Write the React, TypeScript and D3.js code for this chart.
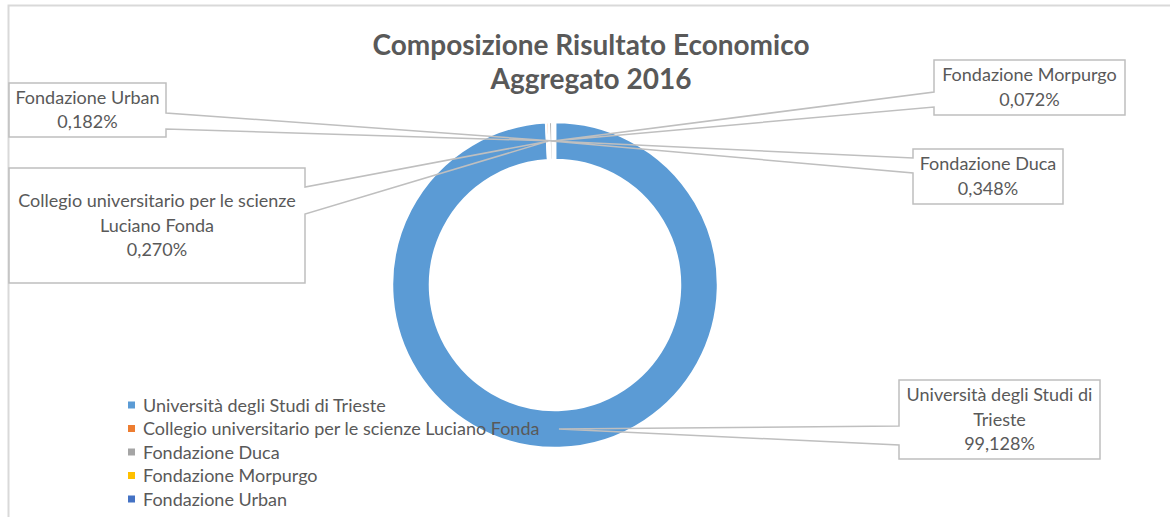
import * as d3 from "d3";

const categories = [
  "Università degli Studi di Trieste",
  "Collegio universitario per le scienze Luciano Fonda",
  "Fondazione Duca",
  "Fondazione Morpurgo",
  "Fondazione Urban",
];
const values = [99.128, 0.27, 0.348, 0.072, 0.182];
const valueLabels = ["99,128%", "0,270%", "0,348%", "0,072%", "0,182%"];
// label text broken into lines like the callouts
const calloutLines = [
  ["Università degli Studi di", "Trieste"],
  ["Collegio universitario per le scienze", "Luciano Fonda"],
  ["Fondazione Duca"],
  ["Fondazione Morpurgo"],
  ["Fondazione Urban"],
];
const colors = ["#5b9bd5", "#ed7d31", "#a5a5a5", "#ffc000", "#4472c4"];

// callout boxes: x, y, w, h, side the tail leaves from, tail y's
const boxes = [
  { x: 899, y: 380, w: 201, h: 79, side: "left", t1: 426, t2: 445 },
  { x: 9, y: 168, w: 296, h: 115, side: "right", t1: 187, t2: 214 },
  { x: 913, y: 149, w: 150, h: 55, side: "left", t1: 158, t2: 173 },
  { x: 934, y: 60, w: 191, h: 55, side: "left", t1: 92, t2: 107 },
  { x: 9, y: 83, w: 157, h: 54, side: "right", t1: 113, t2: 129 },
];

const W = 1170;
const H = 517;
const cx = 555;
const cy = 285;
const rOuter = 163;
const rInner = 125;
const textColor = "#595959";
const font = "Lato, 'Open Sans', sans-serif";

export default function App() {
  const pie = d3
    .pie<number>()
    .sort(null)
    .value((d) => d);
  const arcs = pie(values);
  const arc = d3
    .arc<d3.PieArcDatum<number>>()
    .innerRadius(rInner)
    .outerRadius(rOuter);

  const calloutPath = (b: (typeof boxes)[number], ax: number, ay: number) => {
    const p = d3.path();
    const x0 = b.x;
    const x1 = b.x + b.w;
    const y0 = b.y;
    const y1 = b.y + b.h;
    p.moveTo(x0, y0);
    p.lineTo(x1, y0);
    if (b.side === "right") {
      p.lineTo(x1, b.t1);
      p.lineTo(ax, ay);
      p.lineTo(x1, b.t2);
    }
    p.lineTo(x1, y1);
    p.lineTo(x0, y1);
    if (b.side === "left") {
      p.lineTo(x0, b.t2);
      p.lineTo(ax, ay);
      p.lineTo(x0, b.t1);
    }
    p.closePath();
    return p.toString();
  };

  const labelArc = d3
    .arc<d3.PieArcDatum<number>>()
    .innerRadius((rInner + rOuter) / 2)
    .outerRadius((rInner + rOuter) / 2);

  return (
    <svg
      width={W}
      height={H}
      style={{ position: "absolute", left: 0, top: 0, fontFamily: font }}
    >
      <rect width={W} height={H} fill="#fff" />
      <rect
        x={8.5}
        y={5.5}
        width={W + 20}
        height={H + 20}
        fill="none"
        stroke="#d9d9d9"
        strokeWidth={2}
      />

      <text
        x={591}
        y={55}
        textAnchor="middle"
        fontSize={28}
        fontWeight="bold"
        fill={textColor}
      >
        Composizione Risultato Economico
      </text>
      <text
        x={591}
        y={89}
        textAnchor="middle"
        fontSize={28}
        fontWeight="bold"
        fill={textColor}
      >
        Aggregato 2016
      </text>

      <g transform={`translate(${cx},${cy})`}>
        {arcs.map((a, i) => (
          <path
            key={categories[i]}
            d={arc(a) ?? ""}
            fill={colors[i]}
            stroke="#fff"
            strokeWidth={2.5}
          />
        ))}
      </g>

      {/* legend */}
      <g>
        {categories.map((c, i) => (
          <g key={c} transform={`translate(128,${405 + i * 23.5})`}>
            <rect x={0} y={-3.5} width={7} height={7} fill={colors[i]} />
            <text x={15} y={6.5} fontSize={18} fill={textColor}>
              {c}
            </text>
          </g>
        ))}
      </g>

      {/* callouts */}
      {arcs.map((a, i) => {
        const b = boxes[i];
        const [lx, ly] = labelArc.centroid(a);
        const lines = [...calloutLines[i], valueLabels[i]];
        const lineH = 24.5;
        const top = b.y + b.h / 2 - ((lines.length - 1) * lineH) / 2;
        return (
          <g key={categories[i]}>
            <rect x={b.x} y={b.y} width={b.w} height={b.h} fill="#fff" />
            <path
              d={calloutPath(b, cx + lx, cy + ly)}
              fill="none"
              stroke="#bfbfbf"
              strokeWidth={1.5}
            />
            {lines.map((t, j) => (
              <text
                key={j}
                x={b.x + b.w / 2}
                y={top + j * lineH + 6}
                textAnchor="middle"
                fontSize={18}
                fill={textColor}
              >
                {t}
              </text>
            ))}
          </g>
        );
      })}
    </svg>
  );
}
